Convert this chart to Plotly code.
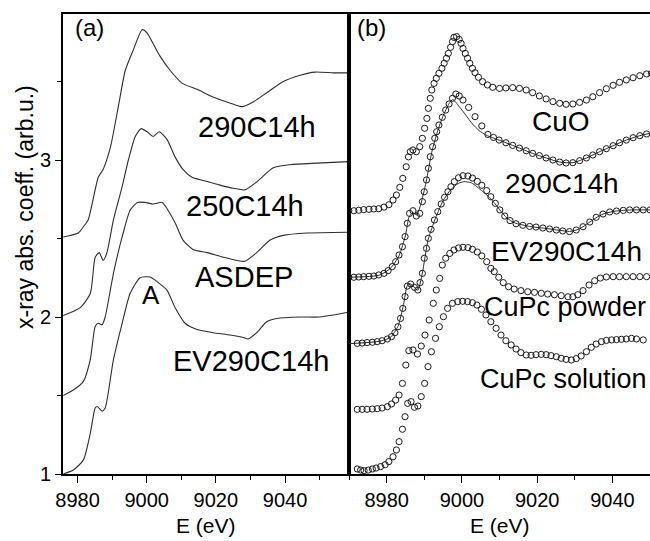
import plotly.graph_objects as go

# ---------------- Panel (a) data ----------------
a_290_E = [8975.9, 8980.2, 8981.7, 8983.1, 8986.0, 8987.4, 8989.5, 8991.8, 8993.8, 8996.1, 8998.7, 9000.1,
           9001.9, 9003.9, 9006.8, 9010.2, 9014.6, 9018.3, 9023.2, 9027.5, 9030.8, 9034.8, 9039.5, 9044.4,
           9048.7, 9054.0, 9058.3]
a_290_v = [2.51, 2.535, 2.575, 2.62, 2.89, 2.94, 3.08, 3.34, 3.57, 3.70, 3.83, 3.81,
           3.74, 3.66, 3.57, 3.49, 3.45, 3.41, 3.37, 3.34, 3.37, 3.43, 3.50, 3.54,
           3.56, 3.555, 3.555]

a_250_E = [8975.9, 8980.8, 8983.7, 8985.1, 8986.3, 8987.4, 8988.5, 8990.4, 8992.9, 8994.7, 8996.7, 8998.4,
           9000.1, 9001.9, 9003.6, 9005.9, 9008.2, 9010.5, 9013.1, 9016.3, 9021.2, 9025.0, 9028.4, 9031.8,
           9036.6, 9041.5, 9049.2, 9058.3]
a_250_v = [2.01, 2.06, 2.15, 2.38, 2.41, 2.36, 2.41, 2.62, 2.83, 3.00, 3.15, 3.20,
           3.18, 3.15, 3.18, 3.13, 3.02, 2.94, 2.89, 2.87, 2.84, 2.82, 2.81, 2.86,
           2.95, 2.97, 2.98, 2.99]

a_asdep_E = [8975.9, 8978.8, 8981.7, 8983.7, 8985.1, 8986.0, 8987.1, 8988.0, 8990.4, 8992.9, 8995.2, 8997.3,
             8999.5, 9001.9, 9004.5, 9005.9, 9008.2, 9010.5, 9013.4, 9017.5, 9022.2, 9026.2, 9028.4, 9031.8,
             9035.7, 9039.5, 9046.4, 9058.3]
a_asdep_v = [1.50, 1.535, 1.59, 1.73, 1.94, 1.96, 1.95, 2.00, 2.28, 2.51, 2.68, 2.73,
             2.73, 2.72, 2.73, 2.69, 2.60, 2.49, 2.43, 2.41, 2.38, 2.36, 2.355, 2.41,
             2.49, 2.52, 2.535, 2.54]

a_ev_E = [8975.9, 8978.8, 8981.7, 8983.7, 8985.1, 8985.7, 8987.1, 8988.0, 8990.4, 8992.9, 8995.2, 8998.1,
          9001.0, 9003.3, 9005.9, 9008.2, 9011.1, 9014.6, 9019.2, 9024.1, 9027.9, 9029.3, 9031.8, 9034.7,
          9037.6, 9044.3, 9050.1, 9058.3]
a_ev_v = [1.0, 1.025, 1.09, 1.26, 1.42, 1.43, 1.40, 1.42, 1.73, 1.96, 2.15, 2.25,
          2.255, 2.22, 2.17, 2.06, 1.96, 1.92, 1.90, 1.885, 1.87, 1.86, 1.90, 1.97,
          1.99, 2.00, 2.00, 2.03]

# ---------------- Panel (b) data (markers) ----------------
b_cuo_E = [8969.95, 8971.3, 8972.6, 8973.9, 8975.3, 8976.6, 8977.9, 8979.3, 8980.6, 8981.7, 8982.6, 8983.5,
           8984.3, 8985.2, 8985.8, 8986.3, 8987.0, 8987.9, 8988.8, 8989.5, 8990.1, 8990.7, 8991.1, 8991.6,
           8992.0, 8992.6, 8993.2, 8993.9, 8994.7, 8995.3, 8995.9, 8996.4, 8997.0, 8997.5, 8997.9, 8998.6,
           8999.3, 8999.8, 9000.3, 9000.9, 9001.5, 9002.1, 9002.8, 9003.5, 9004.4, 9005.5, 9006.8, 9008.2,
           9010.0, 9011.7, 9013.5, 9015.3, 9017.1, 9018.8, 9020.6, 9022.4, 9024.2, 9026.0, 9027.7, 9029.5,
           9031.3, 9033.1, 9034.8, 9036.6, 9038.4, 9040.2, 9041.9, 9043.7, 9045.5, 9047.3, 9049.1, 9050.4]
b_cuo_v = [2.677, 2.677, 2.68, 2.684, 2.686, 2.688, 2.69, 2.70, 2.715, 2.745, 2.777, 2.826,
           2.883, 2.957, 3.02, 3.053, 3.064, 3.053, 3.085, 3.138, 3.202, 3.265, 3.329, 3.393,
           3.446, 3.488, 3.52, 3.552, 3.584, 3.616, 3.648, 3.679, 3.718, 3.754, 3.781, 3.786,
           3.768, 3.743, 3.711, 3.679, 3.648, 3.616, 3.584, 3.556, 3.527, 3.499, 3.478, 3.463,
           3.456, 3.459, 3.461, 3.456, 3.446, 3.429, 3.408, 3.389, 3.372, 3.361, 3.355, 3.357,
           3.367, 3.382, 3.403, 3.429, 3.454, 3.476, 3.495, 3.51, 3.524, 3.537, 3.548, 3.552]

b_290_E = [8969.95, 8971.3, 8972.6, 8973.9, 8975.3, 8976.6, 8977.9, 8979.3, 8980.4, 8981.5, 8982.4, 8983.3,
           8984.2, 8984.9, 8985.5, 8986.1, 8987.0, 8987.9, 8988.8, 8989.5, 8990.0, 8990.6, 8991.1, 8991.6,
           8992.2, 8992.8, 8993.3, 8993.9, 8994.8, 8995.7, 8996.6, 8997.5, 8998.4, 8999.3, 9000.3, 9001.8,
           9003.5, 9005.3, 9006.9, 9008.4, 9009.9, 9011.7, 9013.5, 9015.3, 9017.1, 9018.8, 9020.6, 9022.4,
           9024.2, 9026.0, 9027.7, 9029.5, 9031.3, 9033.1, 9034.8, 9036.6, 9038.4, 9040.2, 9041.9, 9043.7,
           9045.5, 9047.3, 9049.1]
b_290_v = [2.253, 2.253, 2.255, 2.257, 2.259, 2.261, 2.268, 2.278, 2.295, 2.321, 2.352, 2.395,
           2.448, 2.512, 2.597, 2.66, 2.677, 2.643, 2.66, 2.735, 2.798, 2.873, 2.947, 3.021,
           3.085, 3.138, 3.18, 3.223, 3.272, 3.318, 3.357, 3.393, 3.42, 3.408, 3.382, 3.335,
           3.276, 3.217, 3.163, 3.144, 3.127, 3.11, 3.093, 3.076, 3.059, 3.042, 3.028, 3.013,
           3.0, 2.987, 2.981, 2.983, 2.996, 3.013, 3.032, 3.053, 3.072, 3.091, 3.11, 3.127,
           3.142, 3.155, 3.166]

b_ev_E = [8972.2, 8973.5, 8974.8, 8976.2, 8977.5, 8978.8, 8980.2, 8981.3, 8982.2, 8983.0, 8983.7, 8984.3,
          8984.9, 8985.5, 8986.4, 8987.4, 8988.3, 8988.9, 8989.5, 8990.0, 8990.6, 8991.1, 8991.8, 8992.7,
          8993.6, 8994.5, 8995.4, 8996.3, 8997.1, 8998.0, 8999.1, 9000.3, 9001.6, 9002.8, 9004.1, 9005.3,
          9006.6, 9007.7, 9008.9, 9010.1, 9011.4, 9012.8, 9014.4, 9016.2, 9018.0, 9019.7, 9021.5, 9023.3,
          9025.1, 9026.8, 9028.6, 9030.4, 9032.2, 9034.0, 9035.7, 9037.5, 9039.3, 9041.1, 9042.9, 9044.6,
          9046.4, 9048.2, 9050.0]
b_ev_v = [1.832, 1.834, 1.837, 1.839, 1.843, 1.849, 1.86, 1.875, 1.90, 1.938, 1.991, 2.055,
          2.13, 2.197, 2.21, 2.189, 2.172, 2.219, 2.278, 2.374, 2.437, 2.501, 2.558, 2.618,
          2.671, 2.72, 2.762, 2.798, 2.83, 2.862, 2.887, 2.90, 2.898, 2.885, 2.864, 2.839,
          2.805, 2.766, 2.724, 2.682, 2.643, 2.614, 2.594, 2.584, 2.577, 2.573, 2.567, 2.561,
          2.554, 2.548, 2.544, 2.554, 2.575, 2.605, 2.635, 2.656, 2.669, 2.675, 2.679, 2.682,
          2.682, 2.682, 2.682]

b_pow_E = [8972.2, 8973.5, 8974.8, 8976.2, 8977.5, 8978.8, 8980.2, 8981.3, 8982.4, 8983.3, 8984.2, 8985.1,
           8985.9, 8987.0, 8988.2, 8989.2, 8990.2, 8991.3, 8992.4, 8993.2, 8994.1, 8994.8, 8995.7, 8996.8,
           8997.9, 8999.1, 9000.3, 9001.6, 9002.8, 9004.1, 9005.3, 9006.6, 9007.7, 9008.6, 9009.8, 9011.0,
           9012.4, 9013.9, 9015.7, 9017.5, 9019.3, 9021.1, 9022.8, 9024.6, 9026.4, 9028.2, 9029.5, 9030.8,
           9032.2, 9033.8, 9035.3, 9036.8, 9038.4, 9040.2, 9041.9, 9043.7, 9045.5, 9047.3, 9049.1]
b_pow_v = [1.412, 1.412, 1.412, 1.414, 1.416, 1.42, 1.429, 1.446, 1.471, 1.503, 1.577, 1.694,
           1.786, 1.79, 1.764, 1.815, 1.885, 1.981, 2.087, 2.172, 2.246, 2.331, 2.374, 2.405,
           2.427, 2.44, 2.444, 2.442, 2.431, 2.414, 2.389, 2.352, 2.31, 2.289, 2.253, 2.219,
           2.193, 2.178, 2.168, 2.161, 2.157, 2.151, 2.146, 2.142, 2.136, 2.129, 2.129, 2.142,
           2.168, 2.204, 2.231, 2.248, 2.255, 2.257, 2.257, 2.257, 2.257, 2.257, 2.257]

b_sol_E = [8972.2, 8973.1, 8974.0, 8975.1, 8976.2, 8977.2, 8978.4, 8979.6, 8980.6, 8981.7, 8982.6, 8983.3,
           8984.2, 8984.9, 8985.6, 8986.5, 8987.4, 8988.3, 8989.2, 8990.1, 8991.0, 8991.9, 8993.0, 8994.0,
           8995.1, 8996.2, 8997.5, 8998.9, 9000.2, 9001.5, 9002.8, 9004.0, 9005.2, 9006.4, 9007.7, 9009.1,
           9010.4, 9011.7, 9013.1, 9014.4, 9015.7, 9017.1, 9018.4, 9019.7, 9021.1, 9022.4, 9023.7, 9025.1,
           9026.4, 9027.7, 9029.1, 9030.4, 9031.7, 9033.1, 9034.4, 9035.7, 9037.1, 9038.4, 9039.8, 9041.1,
           9042.4, 9043.7, 9045.1, 9046.4, 9048.2]
b_sol_v = [1.032, 1.025, 1.021, 1.025, 1.032, 1.038, 1.047, 1.059, 1.079, 1.11, 1.153, 1.206,
           1.285, 1.365, 1.45, 1.461, 1.425, 1.433, 1.493, 1.577, 1.684, 1.779, 1.864, 1.938,
           2.002, 2.055, 2.087, 2.098, 2.100, 2.098, 2.091, 2.076, 2.049, 2.013, 1.970, 1.928,
           1.885, 1.849, 1.822, 1.796, 1.773, 1.758, 1.756, 1.76, 1.762, 1.76, 1.754, 1.747,
           1.737, 1.73, 1.726, 1.735, 1.752, 1.779, 1.807, 1.828, 1.843, 1.851, 1.854, 1.856,
           1.858, 1.86, 1.864, 1.86, 1.854]

# ---------------- Panel (b) comparison lines ----------------
b_290_line_E = [8970.0, 8978.0, 8981.0, 8983.3, 8985.0, 8986.0, 8987.0, 8988.0, 8989.0, 8990.5, 8992.0, 8993.5,
                8995.0, 8996.6, 8997.6, 8999.3, 9001.0, 9002.8, 9004.6, 9006.4, 9008.2, 9011.7, 9015.3, 9018.8,
                9022.4, 9026.0, 9029.5, 9033.1, 9036.6, 9040.2, 9043.7, 9047.3, 9050.0]
b_290_line_v = [2.253, 2.266, 2.31, 2.39, 2.52, 2.64, 2.665, 2.65, 2.71, 2.86, 3.05, 3.18,
                3.28, 3.36, 3.385, 3.34, 3.287, 3.23, 3.187, 3.159, 3.142, 3.11, 3.076, 3.042,
                3.013, 2.987, 2.983, 3.013, 3.053, 3.091, 3.127, 3.155, 3.17]

b_ev_line_E = [8970.0, 8978.0, 8981.0, 8983.0, 8984.5, 8985.5, 8986.4, 8987.5, 8988.3, 8989.5, 8991.0, 8993.0,
               8995.0, 8997.0, 8999.0, 9000.5, 9002.5, 9004.0, 9005.5, 9007.0, 9008.5, 9010.0, 9012.0, 9014.0,
               9018.0, 9022.0, 9026.0, 9028.6, 9030.4, 9032.2, 9034.0, 9036.0, 9038.0, 9041.0, 9045.0, 9050.0]
b_ev_line_v = [1.83, 1.845, 1.87, 1.94, 2.08, 2.2, 2.21, 2.185, 2.17, 2.28, 2.49, 2.63,
               2.74, 2.81, 2.85, 2.862, 2.855, 2.83, 2.80, 2.77, 2.73, 2.685, 2.63, 2.60,
               2.577, 2.565, 2.552, 2.545, 2.554, 2.575, 2.605, 2.637, 2.66, 2.675, 2.682, 2.682]

x_major = [8980, 9000, 9020, 9040]
a_x_minor = [8990, 9010, 9030, 9050]
b_x_minor = [8970, 8990, 9010, 9030]
y_major = [1, 2, 3]
y_minor = [1.5, 2.5, 3.5]

FONT = "Liberation Sans, Arial, sans-serif"
W, H = 650, 541

fig = go.Figure()
for E, v in [(a_290_E, a_290_v), (a_250_E, a_250_v), (a_asdep_E, a_asdep_v), (a_ev_E, a_ev_v)]:
    fig.add_trace(go.Scatter(x=E, y=v, mode="lines", line=dict(color="#2e2e2e", width=1.1, shape="spline", smoothing=0.6),
                             xaxis="x", yaxis="y", showlegend=False, hoverinfo="skip"))

for E, v in [(b_290_line_E, b_290_line_v), (b_ev_line_E, b_ev_line_v)]:
    fig.add_trace(go.Scatter(x=E, y=v, mode="lines", line=dict(color="#2e2e2e", width=1.0, shape="spline", smoothing=0.6),
                             xaxis="x2", yaxis="y2", showlegend=False, hoverinfo="skip"))

for E, v in [(b_cuo_E, b_cuo_v), (b_290_E, b_290_v), (b_ev_E, b_ev_v), (b_pow_E, b_pow_v), (b_sol_E, b_sol_v)]:
    fig.add_trace(go.Scatter(x=E, y=v, mode="markers",
                             marker=dict(symbol="circle-open", size=6.2, color="#1a1a1a", line=dict(width=1.0, color="#1a1a1a")),
                             xaxis="x2", yaxis="y2", showlegend=False, hoverinfo="skip"))

y_dom = [1 - 474 / H, 1 - 14 / H]
axis_common = dict(showgrid=False, zeroline=False, showline=True, linecolor="black", linewidth=1.7,
                   automargin=False, tickfont=dict(family=FONT, size=20, color="black"))

fig.update_layout(
    width=W, height=H, margin=dict(l=0, r=0, t=0, b=0, autoexpand=False),
    paper_bgcolor="white", plot_bgcolor="white",
    xaxis=dict(domain=[63 / W, 349 / W], range=[8975.8, 9058.5], anchor="y", mirror=True,
               tickmode="array", tickvals=x_major, ticks="outside", ticklen=7, tickwidth=1.3, tickcolor="black",
               minor=dict(tickmode="array", tickvals=a_x_minor, ticks="outside", ticklen=4, tickwidth=1.3, tickcolor="black"),
               **axis_common),
    yaxis=dict(domain=y_dom, range=[1, 3.93], anchor="x", mirror=True,
               tickmode="array", tickvals=y_major, ticks="outside", ticklen=6, tickwidth=1.3, tickcolor="black",
               minor=dict(tickmode="array", tickvals=y_minor, ticks="outside", ticklen=4, tickwidth=1.3, tickcolor="black"),
               **axis_common),
    xaxis2=dict(domain=[349 / W, 1.0], range=[8970, 9050], anchor="y2", mirror=True,
                tickmode="array", tickvals=x_major, ticks="outside", ticklen=7, tickwidth=1.3, tickcolor="black",
                minor=dict(tickmode="array", tickvals=b_x_minor, ticks="outside", ticklen=4, tickwidth=1.3, tickcolor="black"),
                **axis_common),
    yaxis2=dict(domain=y_dom, range=[1, 3.93], anchor="x2", mirror=False, ticks="", showticklabels=False,
                **axis_common),
)

def label(text, px, py, size, angle=0, anchor="center"):
    fig.add_annotation(text=text, x=px / W, y=1 - py / H, xref="paper", yref="paper",
                       xanchor=anchor, yanchor="middle", showarrow=False, textangle=angle,
                       font=dict(family=FONT, size=size, color="black"))

label("(a)", 89, 28, 24)
label("(b)", 371, 28, 24)
label("290C14h", 257, 127, 29)
label("250C14h", 245, 206, 29)
label("ASDEP", 244, 277, 29)
label("A", 151, 295, 26)
label("EV290C14h", 251, 361, 29)
label("CuO", 561, 122, 28)
label("290C14h", 562, 183, 28)
label("EV290C14h", 566, 251, 28)
label("CuPc powder", 648, 307, 27, anchor="right")
label("CuPc solution", 649, 379, 27, anchor="right")
label("E (eV)", 206, 525, 21)
label("E (eV)", 500, 525, 21)
label("x-ray abs. coeff. (arb.u.)", 25, 207, 23, angle=-90)

fig.write_html("out.html", config={"displayModeBar": False},
               post_script="document.body.style.margin='0px';document.body.style.overflow='hidden';")
